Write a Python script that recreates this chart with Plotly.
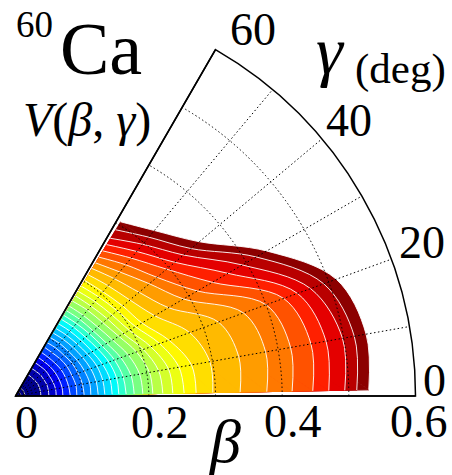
import plotly.graph_objects as go

# ---------------- data ----------------
gamma_deg = [1, 10, 20, 30, 40, 50, 59]

# beta position of each contour level at the gamma samples above (inner -> outer)
c01 = [0.038, 0.038, 0.038, 0.038, 0.037, 0.037, 0.037]
c02 = [0.050, 0.050, 0.050, 0.049, 0.049, 0.048, 0.048]
c03 = [0.061, 0.061, 0.060, 0.059, 0.059, 0.058, 0.058]
c04 = [0.071, 0.071, 0.070, 0.069, 0.068, 0.067, 0.067]
c05 = [0.082, 0.081, 0.080, 0.079, 0.077, 0.076, 0.076]
c06 = [0.092, 0.092, 0.090, 0.089, 0.087, 0.085, 0.085]
c07 = [0.103, 0.102, 0.100, 0.098, 0.095, 0.094, 0.093]
c08 = [0.113, 0.113, 0.110, 0.107, 0.104, 0.103, 0.102]
c09 = [0.124, 0.123, 0.120, 0.116, 0.113, 0.111, 0.110]
c10 = [0.134, 0.133, 0.130, 0.125, 0.121, 0.119, 0.118]
c11 = [0.145, 0.144, 0.139, 0.133, 0.129, 0.127, 0.126]
c12 = [0.155, 0.154, 0.149, 0.142, 0.137, 0.135, 0.134]
c13 = [0.166, 0.164, 0.158, 0.150, 0.145, 0.142, 0.141]
c14 = [0.178, 0.176, 0.168, 0.158, 0.152, 0.150, 0.149]
c15 = [0.191, 0.189, 0.180, 0.168, 0.161, 0.158, 0.157]
c16 = [0.206, 0.204, 0.193, 0.179, 0.171, 0.168, 0.166]
c17 = [0.221, 0.218, 0.204, 0.187, 0.180, 0.176, 0.175]
c18 = [0.236, 0.233, 0.216, 0.197, 0.189, 0.185, 0.183]
c19 = [0.253, 0.249, 0.230, 0.208, 0.199, 0.194, 0.192]
c20 = [0.271, 0.268, 0.245, 0.219, 0.210, 0.204, 0.202]
c21 = [0.296, 0.296, 0.278, 0.241, 0.224, 0.216, 0.212]
c22 = [0.337, 0.340, 0.324, 0.265, 0.242, 0.230, 0.223]
c23 = [0.377, 0.381, 0.364, 0.291, 0.262, 0.243, 0.233]
c24 = [0.415, 0.419, 0.400, 0.315, 0.277, 0.257, 0.243]
c25 = [0.446, 0.450, 0.428, 0.341, 0.296, 0.270, 0.254]
c26 = [0.470, 0.473, 0.450, 0.368, 0.312, 0.283, 0.265]
c27 = [0.494, 0.498, 0.471, 0.393, 0.329, 0.297, 0.276]
c28 = [0.512, 0.516, 0.492, 0.417, 0.344, 0.311, 0.291]
c29 = [0.530, 0.534, 0.512, 0.435, 0.360, 0.324, 0.305]

origin_arcs = [0.008, 0.014]          # tiny contour arcs at the minimum

beta_grid = [0.1, 0.2, 0.3, 0.4, 0.5]
gamma_grid = [10, 20, 30, 40, 50]
beta_tick_labels = ["0", "0.2", "0.4", "0.6"]
gamma_tick_labels = ["0", "20", "40", "60"]

contours = [c01, c02, c03, c04, c05, c06, c07, c08, c09, c10,
            c11, c12, c13, c14, c15, c16, c17, c18, c19, c20,
            c21, c22, c23, c24, c25, c26, c27, c28, c29]

# ---------------- styling ----------------
FONT = "Liberation Serif, Times New Roman, serif"
W, H = 452, 475
WHITE_LINE = "rgba(255,255,255,0.9)"
# fill colour inside each level (jet-like, as seen in the picture), inner -> outer
band_colors = [
    "rgb(0,0,140)", "rgb(0,0,170)", "rgb(0,0,200)", "rgb(0,0,235)", "rgb(0,30,255)",
    "rgb(0,70,255)", "rgb(0,100,255)", "rgb(0,130,255)", "rgb(0,160,255)", "rgb(0,190,255)",
    "rgb(0,220,255)", "rgb(0,250,250)", "rgb(45,255,205)", "rgb(85,255,165)", "rgb(120,255,130)",
    "rgb(150,255,100)", "rgb(185,255,70)", "rgb(212,255,42)", "rgb(236,255,18)", "rgb(255,248,0)",
    "rgb(255,222,0)", "rgb(255,186,0)", "rgb(255,156,0)", "rgb(255,120,0)", "rgb(255,82,0)",
    "rgb(255,32,0)", "rgb(228,0,0)", "rgb(185,0,0)", "rgb(140,0,0)",
]
n = len(contours)

fig = go.Figure()
# filled regions, outermost level first; each = wedge (origin + end points) + spline cap
for k in reversed(range(n)):
    c = contours[k]
    col = band_colors[k]
    fig.add_trace(go.Scatterpolar(
        r=[0, c[0], c[-1]], theta=[0, gamma_deg[0], gamma_deg[-1]], mode="lines",
        fill="toself", fillcolor=col, line=dict(color=col, width=1),
        cliponaxis=True, hoverinfo="skip", showlegend=False))
    fig.add_trace(go.Scatterpolar(
        r=c, theta=gamma_deg, mode="lines", fill="toself", fillcolor=col,
        line=dict(color=WHITE_LINE, width=1, shape="spline"),
        cliponaxis=True, hoverinfo="skip", showlegend=False))
for a in origin_arcs:
    fig.add_trace(go.Scatterpolar(
        r=[a] * len(gamma_deg), theta=gamma_deg, mode="lines",
        line=dict(color=WHITE_LINE, width=1, shape="spline"),
        cliponaxis=True, hoverinfo="skip", showlegend=False))
# overlay subplot carrying the dotted grid above the filled bands
fig.add_trace(go.Scatterpolar(r=[0], theta=[0], mode="markers", marker=dict(size=1, opacity=0),
                              subplot="polar2", hoverinfo="skip", showlegend=False))

ox, oy, R = 15.5, 396.0, 400.0
dom = dict(x=[ox / W, (ox + R) / W], y=[(H - oy) / H, (H - oy + R * 0.8660254) / H])

ang_common = dict(rotation=0, direction="counterclockwise", thetaunit="degrees",
                  showticklabels=False, ticks="")
GRID_DASH = "1.5px,2.5px"
fig.update_layout(
    width=W, height=H, margin=dict(l=0, r=0, t=0, b=0),
    paper_bgcolor="white", plot_bgcolor="white", showlegend=False,
    polar=dict(
        domain=dom, sector=[0, 60], bgcolor="white",
        radialaxis=dict(range=[0, 0.6], angle=0, showline=True, linecolor="black",
                        linewidth=1.5, showgrid=False, showticklabels=False, ticks=""),
        angularaxis=dict(**ang_common, showline=True, linecolor="black", linewidth=1.5,
                         showgrid=False),
    ),
    polar2=dict(
        domain=dom, sector=[0, 60], bgcolor="rgba(0,0,0,0)",
        radialaxis=dict(range=[0, 0.6], angle=60, showline=True, linecolor="black",
                        linewidth=1.5, tickmode="array", tickvals=beta_grid,
                        showgrid=True, gridcolor="black", gridwidth=1.2, griddash=GRID_DASH,
                        showticklabels=False, ticks=""),
        angularaxis=dict(**ang_common, tickmode="array", tickvals=gamma_grid,
                         showline=False, showgrid=True, gridcolor="black", gridwidth=1.2,
                         griddash=GRID_DASH),
    ),
)

def txt(s, x, y, size):
    fig.add_annotation(text=s, x=x / W, y=1 - y / H, xref="paper", yref="paper",
                       xanchor="center", yanchor="middle", showarrow=False,
                       font=dict(family=FONT, size=size, color="black"))

# title-like labels
txt("60", 34, 25, 37)
txt("Ca", 101, 49, 74)
txt("<i>V</i>(<i>β</i>, <i>γ</i>)", 87, 120, 48)
txt("<i>γ</i>", 330, 51, 68)
txt("(deg)", 400, 69, 43)
txt("<i>β</i>", 225, 441, 62)

# tick labels
for s, (x, y) in zip(beta_tick_labels, [(26.7, 422), (160, 422), (292.5, 421.5), (418.5, 421.5)]):
    txt(s, x, y, 46)
for s, (x, y) in zip(gamma_tick_labels, [(434, 380), (422, 242), (349, 120), (252.5, 30)]):
    txt(s, x, y, 46)

fig.write_html("out.html", config={"displayModeBar": False},
               post_script="document.body.style.margin='0';document.body.style.overflow='hidden';")
